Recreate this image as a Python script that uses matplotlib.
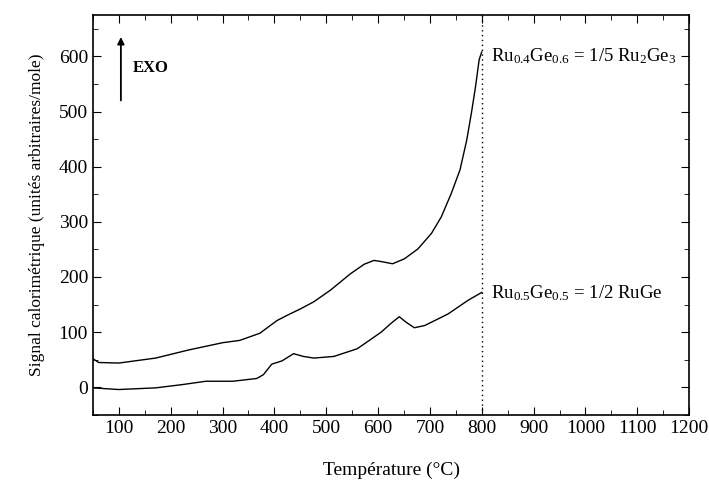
import matplotlib
matplotlib.use("Agg")
import matplotlib.pyplot as plt
from matplotlib.ticker import MultipleLocator

plt.rcParams['font.family'] = ['Liberation Serif', 'DejaVu Serif']
plt.rcParams['mathtext.fontset'] = 'custom'
plt.rcParams['mathtext.rm'] = 'Liberation Serif'
plt.rcParams['mathtext.it'] = 'Liberation Serif'

# Ru0.4Ge0.6 curve
temp_a = [50, 61, 100, 171, 236, 301, 333, 372, 405, 430, 450, 476, 508, 547,
          573, 592, 606, 628, 651, 677, 703, 722, 741, 758, 771, 780, 788, 795, 800]
sig_a = [52, 45, 44, 53, 68, 81, 85, 98, 121, 133, 142, 155, 176, 206,
         223, 230, 228, 224, 233, 251, 279, 309, 351, 394, 448, 497, 545, 594, 608]

# Ru0.5Ge0.5 curve
temp_b = [50, 100, 171, 223, 268, 320, 366, 379, 395, 415, 437, 456, 476, 515, 560,
          606, 625, 641, 654, 670, 690, 735, 774, 800]
sig_b = [-1, -4, -1, 5, 11, 11, 16, 23, 42, 48, 61, 56, 53, 56, 70,
         100, 116, 128, 118, 108, 112, 133, 158, 172]

label_a = r"Ru$_{0.4}$Ge$_{0.6}$ = 1/5 Ru$_{2}$Ge$_{3}$"
label_b = r"Ru$_{0.5}$Ge$_{0.5}$ = 1/2 RuGe"
xticks = [100, 200, 300, 400, 500, 600, 700, 800, 900, 1000, 1100, 1200]
yticks = [0, 100, 200, 300, 400, 500, 600]

fig = plt.figure(figsize=(7.09, 4.83), dpi=100)
ax = fig.add_axes([0.131, 0.141, 0.841, 0.828])

ax.plot(temp_a, sig_a, color='black', lw=1.0)
ax.plot(temp_b, sig_b, color='black', lw=1.0)
ax.axvline(800, color='black', lw=1.0, ls=(0, (1, 2.5)))

ax.set_xlim(50, 1200)
ax.set_ylim(-50, 675)
ax.set_xticks(xticks)
ax.set_yticks(yticks)
ax.xaxis.set_minor_locator(MultipleLocator(50))
ax.yaxis.set_minor_locator(MultipleLocator(50))
ax.tick_params(which='both', direction='in', top=True, right=True, labelsize=14)
ax.tick_params(which='major', length=6)
ax.tick_params(which='minor', length=3.5)
for s in ax.spines.values():
    s.set_linewidth(1.2)

ax.set_xlabel("Température (°C)", fontsize=14, labelpad=18)
ax.set_ylabel("Signal calorimétrique (unités arbitraires/mole)", fontsize=12.5, labelpad=10)

ax.text(818, 600, label_a, fontsize=13.5, va='center', ha='left')
ax.text(818, 170, label_b, fontsize=13.5, va='center', ha='left')

ax.annotate("", xy=(104, 640), xytext=(104, 515),
            arrowprops=dict(arrowstyle='-|>', color='black', lw=1.3, mutation_scale=10))
ax.text(127, 578, "EXO", fontsize=12, fontweight='bold', va='center', ha='left')

fig.savefig("out.png", dpi=100)
